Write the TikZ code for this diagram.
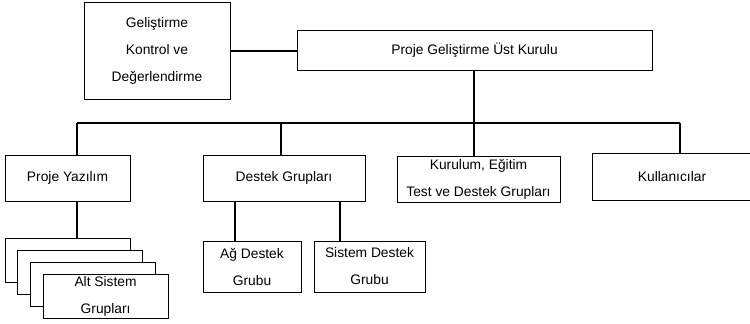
\documentclass[tikz,border=0pt]{standalone}
\usepackage{fontspec}
\setmainfont{Liberation Sans}
\begin{document}
\begin{tikzpicture}[x=1pt, y=-1pt, font=\fontsize{13.8}{27}\selectfont,
	kutu/.style={draw, line width=0.9pt, fill=white, align=center, inner sep=0pt},
	baglanti/.style={line width=2pt}]
	\useasboundingbox (0,0) rectangle (750,324);
	
	\node[kutu, minimum width=146pt, minimum height=97pt] (kontrol) at (157,50.5) {Geliştirme\\Kontrol ve\\Değerlendirme};
	\node[kutu, minimum width=355pt, minimum height=40pt] (ust) at (474.5,50) {Proje Geliştirme Üst Kurulu};
	
	% ikinci seviye
	\node[kutu, minimum width=125pt, minimum height=46pt] (yazilim) at (67.5,178) {Proje Yazılım};
	\node[kutu, minimum width=162pt, minimum height=46pt] (destek) at (284,178) {Destek Grupları};
	\node[kutu, minimum width=163pt, minimum height=46pt] (kurulum) at (478.5,179) {Kurulum, Eğitim\\Test ve Destek Grupları};
	\node[kutu, minimum width=160pt, minimum height=47pt] (kullanici) at (672,177) {Kullanıcılar};
	
	% üçüncü seviye
	\foreach \i in {0,1,2}
		\node[kutu, minimum width=125pt, minimum height=44pt] (alt\i) at ({67.5+12.7*\i},{260+12*\i}) {};
	\node[kutu, minimum width=125pt, minimum height=44pt] (alt3) at (105.6,296) {Alt Sistem\\Grupları};
	\node[kutu, minimum width=98pt, minimum height=51pt] (ag) at (252,266.5) {Ağ Destek\\Grubu};
	\node[kutu, minimum width=111pt, minimum height=51pt] (sistem) at (369.5,266.5) {Sistem Destek\\Grubu};
	
	\coordinate (k1) at (0,51);
	\coordinate (b1) at (77,123);
	\coordinate (b2) at (281,123);
	\coordinate (b3) at (474,123);
	\coordinate (b4) at (680,123);
	\coordinate (d1) at (235,0);
	\coordinate (d2) at (340,0);
	
	\draw[baglanti] (kontrol.east |- k1) -- (ust.west |- k1);
	\draw[baglanti] (ust.south -| b3) -- (kurulum.north -| b3);
	\draw[baglanti] (b1) -- (b4);
	\draw[baglanti] (b1) -- (yazilim.north -| b1);
	\draw[baglanti] (b2) -- (destek.north -| b2);
	\draw[baglanti] (b4) -- (kullanici.north -| b4);
	\draw[baglanti] (yazilim.south -| b1) -- (alt0.north -| b1);
	\draw[baglanti] (destek.south -| d1) -- (ag.north -| d1);
	\draw[baglanti] (destek.south -| d2) -- (sistem.north -| d2);
	
\end{tikzpicture}
\end{document}
